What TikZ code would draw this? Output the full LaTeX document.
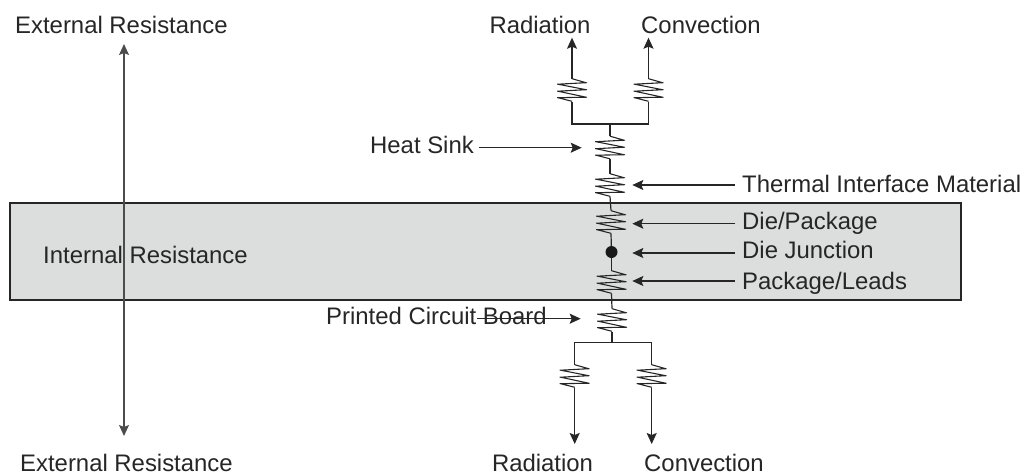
\documentclass[tikz,border=0pt]{standalone}
\usepackage{fontspec}
\setmainfont{Liberation Sans}
\usetikzlibrary{arrows.meta}
\definecolor{bandgray}{RGB}{220,221,221}
\tikzset{
  lbl/.style={inner sep=0pt, text height=17pt, text depth=5pt, font=\fontsize{23.9}{26}\selectfont, text=black!85},
  res/.style={inner sep=0pt, minimum width=30pt, minimum height=22.6pt,
    path picture={
      \draw[line width=1.1pt, black!85, line join=miter]
        (path picture bounding box.north) -- ++(14,4) -- ++(-28,1.5) -- ++(28,5.5) -- ++(-28,1.5) -- ++(28,6) -- ++(-28,0.5) -- (path picture bounding box.south);
    }},
  wire/.style={line width=1.2pt, black!85},
  pointer/.style={line width=1.2pt, black!85, -{Stealth[length=11pt,width=10pt,inset=2pt]}}
}
\begin{document}
\begin{tikzpicture}[x=1pt, y=-1pt]
  \useasboundingbox (0,0) rectangle (1023,474);
  % internal band
  \node[draw=black!85, line width=2.6pt, fill=bandgray, minimum width=951pt, minimum height=97pt, inner sep=0pt, anchor=north west] (band) at (8.5,201.5) {};

  % left side
  \node[lbl, anchor=west] (extT) at (15,27) {External Resistance};
  \node[lbl, anchor=west] (extB) at (20,465) {External Resistance};
  \node[lbl, anchor=west] (intl) at (43,257) {Internal Resistance};
  \coordinate (extA) at (124,44);
  \coordinate (extC) at (124,436);
  \draw[line width=1.2pt, black!70, {Stealth[length=11pt,width=10pt,inset=2pt]}-{Stealth[length=11pt,width=10pt,inset=2pt]}] (extA) -- (extC);

  % top branches
  \node[lbl] (radT) at (540,27) {Radiation};
  \node[lbl] (conT) at (701,27) {Convection};
  \node[res] (rRadT) at (572,90) {};
  \node[res] (rConT) at (648.5,90) {};
  \coordinate (arrRadT) at (572,37.7);
  \coordinate (arrConT) at (648.5,37.7);
  \coordinate (forkT) at (610,124);
  \draw[pointer] (rRadT.north) -- (arrRadT);
  \draw[pointer] (rConT.north) -- (arrConT);
  \draw[wire] (rRadT.south) |- (forkT) -| (rConT.south);

  % centre column
  \node[res] (rSink) at (610,147.5) {};
  \node[res] (rTim) at (610,185) {};
  \node[res] (rDie) at (611,222) {};
  \node[circle, fill=black!90, inner sep=0pt, minimum size=12pt] (junc) at (611.5,252) {};
  \node[res] (rLead) at (611.5,282) {};
  \node[res] (rPcb) at (612,320) {};
  \coordinate (forkB) at (612,342.3);
  \draw[wire] (forkT) -- (rSink.north);
  \draw[wire] (rSink.south) -- (rTim.north);
  \draw[wire] (rTim.south) -- (rDie.north);
  \draw[wire] (rDie.south) -- (junc);
  \draw[wire] (junc) -- (rLead.north);
  \draw[wire] (rLead.south) -- (rPcb.north);
  \draw[wire] (rPcb.south) -- (forkB);

  % bottom branches
  \node[res] (rRadB) at (574.7,376) {};
  \node[res] (rConB) at (651.7,376) {};
  \node[lbl] (radB) at (542.5,465) {Radiation};
  \node[lbl] (conB) at (704,465) {Convection};
  \coordinate (arrRadB) at (574.7,444);
  \coordinate (arrConB) at (651.7,444);
  \draw[wire] (rRadB.north) |- (forkB) -| (rConB.north);
  \draw[pointer] (rRadB.south) -- (arrRadB);
  \draw[pointer] (rConB.south) -- (arrConB);

  % callouts
  \node[lbl, anchor=east] (sink) at (474,147.5) {Heat Sink};
  \node[lbl, anchor=west] (tim) at (742,186) {Thermal Interface Material};
  \node[lbl, anchor=west] (die) at (742,223.5) {Die/Package};
  \node[lbl, anchor=west] (jun) at (742,252.5) {Die Junction};
  \node[lbl, anchor=west] (lead) at (742,283) {Package/Leads};
  \node[lbl, anchor=west] (pcb) at (326,318.5) {Printed Circuit Board};
  \coordinate (sinkEnd) at (581.7,147.7);
  \coordinate (timEnd) at (632.3,185);
  \coordinate (dieEnd) at (632.3,223.7);
  \coordinate (junEnd) at (632.3,253);
  \coordinate (leadEnd) at (632.3,281);
  \coordinate (pcbStart) at (477,318.7);
  \coordinate (pcbEnd) at (580.7,318.7);
  \draw[pointer] (sink.east |- sinkEnd) ++(5,0) -- (sinkEnd);
  \draw[pointer] (tim.west |- timEnd) ++(-7,0) -- (timEnd);
  \draw[pointer] (die.west |- dieEnd) ++(-7,0) -- (dieEnd);
  \draw[pointer] (jun.west |- junEnd) ++(-7,0) -- (junEnd);
  \draw[pointer] (lead.west |- leadEnd) ++(-7,0) -- (leadEnd);
  \draw[pointer] (pcbStart) -- (pcbEnd);
\end{tikzpicture}
\end{document}
